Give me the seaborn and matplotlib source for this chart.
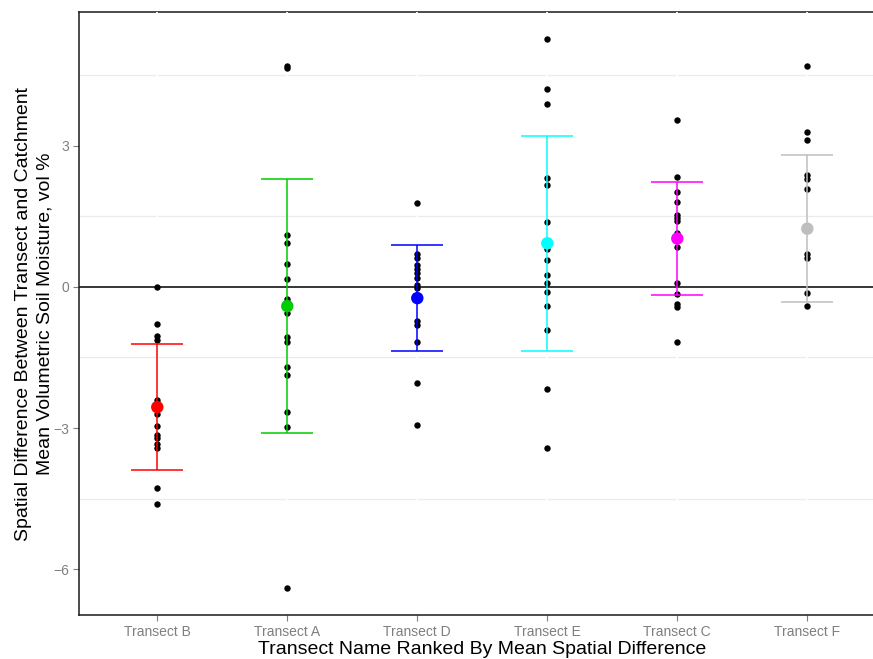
import numpy as np
import pandas as pd
import matplotlib
matplotlib.use("Agg")
import matplotlib.pyplot as plt
from matplotlib.ticker import MultipleLocator
import seaborn as sns

# ---------------- data ----------------
categories = ["Transect B", "Transect A", "Transect D", "Transect E", "Transect C", "Transect F"]

transect_b = [0.0, -0.80, -1.04, -1.14, -2.40, -2.50, -2.70, -2.96, -3.15, -3.22,
              -3.33, -3.42, -4.28, -4.61]
transect_a = [4.68, 4.65, 1.09, 0.94, 0.48, 0.16, -0.26, -0.42, -0.55, -1.07,
              -1.18, -1.71, -1.87, -2.65, -2.97, -6.40]
transect_d = [1.78, 0.70, 0.61, 0.47, 0.38, 0.29, 0.18, 0.04, -0.03, -0.72,
              -0.81, -1.18, -2.04, -2.93]
transect_e = [5.27, 4.21, 3.89, 2.31, 2.17, 1.38, 0.92, 0.80, 0.56, 0.26,
              0.09, -0.11, -0.40, -0.92, -2.17, -3.43]
transect_c = [3.55, 2.34, 2.01, 1.80, 1.53, 1.46, 1.39, 1.14, 1.02, 0.84,
              0.08, -0.16, -0.36, -0.42, -1.17]
transect_f = [4.69, 3.28, 3.12, 2.38, 2.28, 2.08, 0.70, 0.61, -0.13, -0.40]

means = [-2.555, -0.41, -0.24, 0.925, 1.025, 1.235]
sds = [1.335, 2.70, 1.13, 2.285, 1.205, 1.565]

colors = ["#FF0000", "#00CD00", "#0000FF", "#00FFFF", "#FF00FF", "#BEBEBE"]
y_ticks = [-6, -3, 0, 3]

x_title = "Transect Name Ranked By Mean Spatial Difference"
y_title = ("Spatial Difference Between Transect and Catchment\n"
           "Mean Volumetric Soil Moisture, vol %")

# ---------------- styling ----------------
sns.set_style("white")
plt.rcParams["font.family"] = ["Liberation Sans", "DejaVu Sans"]

values = [transect_b, transect_a, transect_d, transect_e, transect_c, transect_f]
df = pd.DataFrame({
    "transect": np.repeat(categories, [len(v) for v in values]),
    "diff": np.concatenate(values),
})
summary = pd.DataFrame({"transect": categories, "mean": means, "sd": sds})
summary["pos"] = np.arange(len(categories))

fig = plt.figure(figsize=(8.73, 6.59), dpi=100)
ax = fig.add_axes([0.0908, 0.0668, 0.9233, 0.9145])

# raw points
sns.stripplot(data=df, x="transect", y="diff", order=categories, jitter=False,
              color="black", size=4.6, linewidth=0, ax=ax, zorder=3)

# zero line
ax.axhline(0, color="black", lw=1.1, zorder=2)

# error bars (mean +/- sd)
for _, row in summary.iterrows():
    c = colors[int(row["pos"])]
    ax.errorbar(row["pos"], row["mean"], yerr=row["sd"], fmt="none",
                ecolor=c, elinewidth=1.1, capsize=18.7, capthick=1.1, zorder=4)

# mean points
sns.scatterplot(data=summary, x="pos", y="mean", hue="transect",
                hue_order=categories, palette=colors, s=80, linewidth=0,
                legend=False, ax=ax, zorder=5)

# axes limits / ticks
ax.set_xlim(-0.6, 5.6)
ax.set_ylim(-6.97, 5.83)
ax.set_xticks(summary["pos"])
ax.set_xticklabels(categories)
ax.set_yticks(y_ticks)
ax.yaxis.set_minor_locator(MultipleLocator(1.5))

ax.tick_params(axis="both", which="major", direction="out", length=4,
               width=0.8, color="#7F7F7F", labelcolor="#7F7F7F",
               labelsize=10, pad=3, bottom=True, left=True)
ax.tick_params(axis="both", which="minor", length=0)

# grid: light minor horizontal, white major vertical
ax.grid(False)
ax.yaxis.grid(True, which="minor", color="#EBEBEB", lw=0.9)
ax.xaxis.grid(True, which="major", color="white", lw=1.3)
ax.set_axisbelow(True)
ax.yaxis.set_zorder(0.4)
ax.xaxis.set_zorder(0.5)

for side in ["left", "bottom", "top"]:
    ax.spines[side].set_visible(True)
    ax.spines[side].set_color("#1A1A1A")
    ax.spines[side].set_linewidth(1.1)
ax.spines["top"].set_zorder(0.3)
ax.spines["right"].set_visible(False)

ax.set_xlabel(x_title, fontsize=14, color="black")
ax.set_ylabel(y_title, fontsize=14, color="black", multialignment="center",
              linespacing=1.35)
ax.xaxis.set_label_coords(0.5, -0.044)
ax.yaxis.set_label_coords(-0.032, 0.5)

fig.savefig("out.png", dpi=100)
